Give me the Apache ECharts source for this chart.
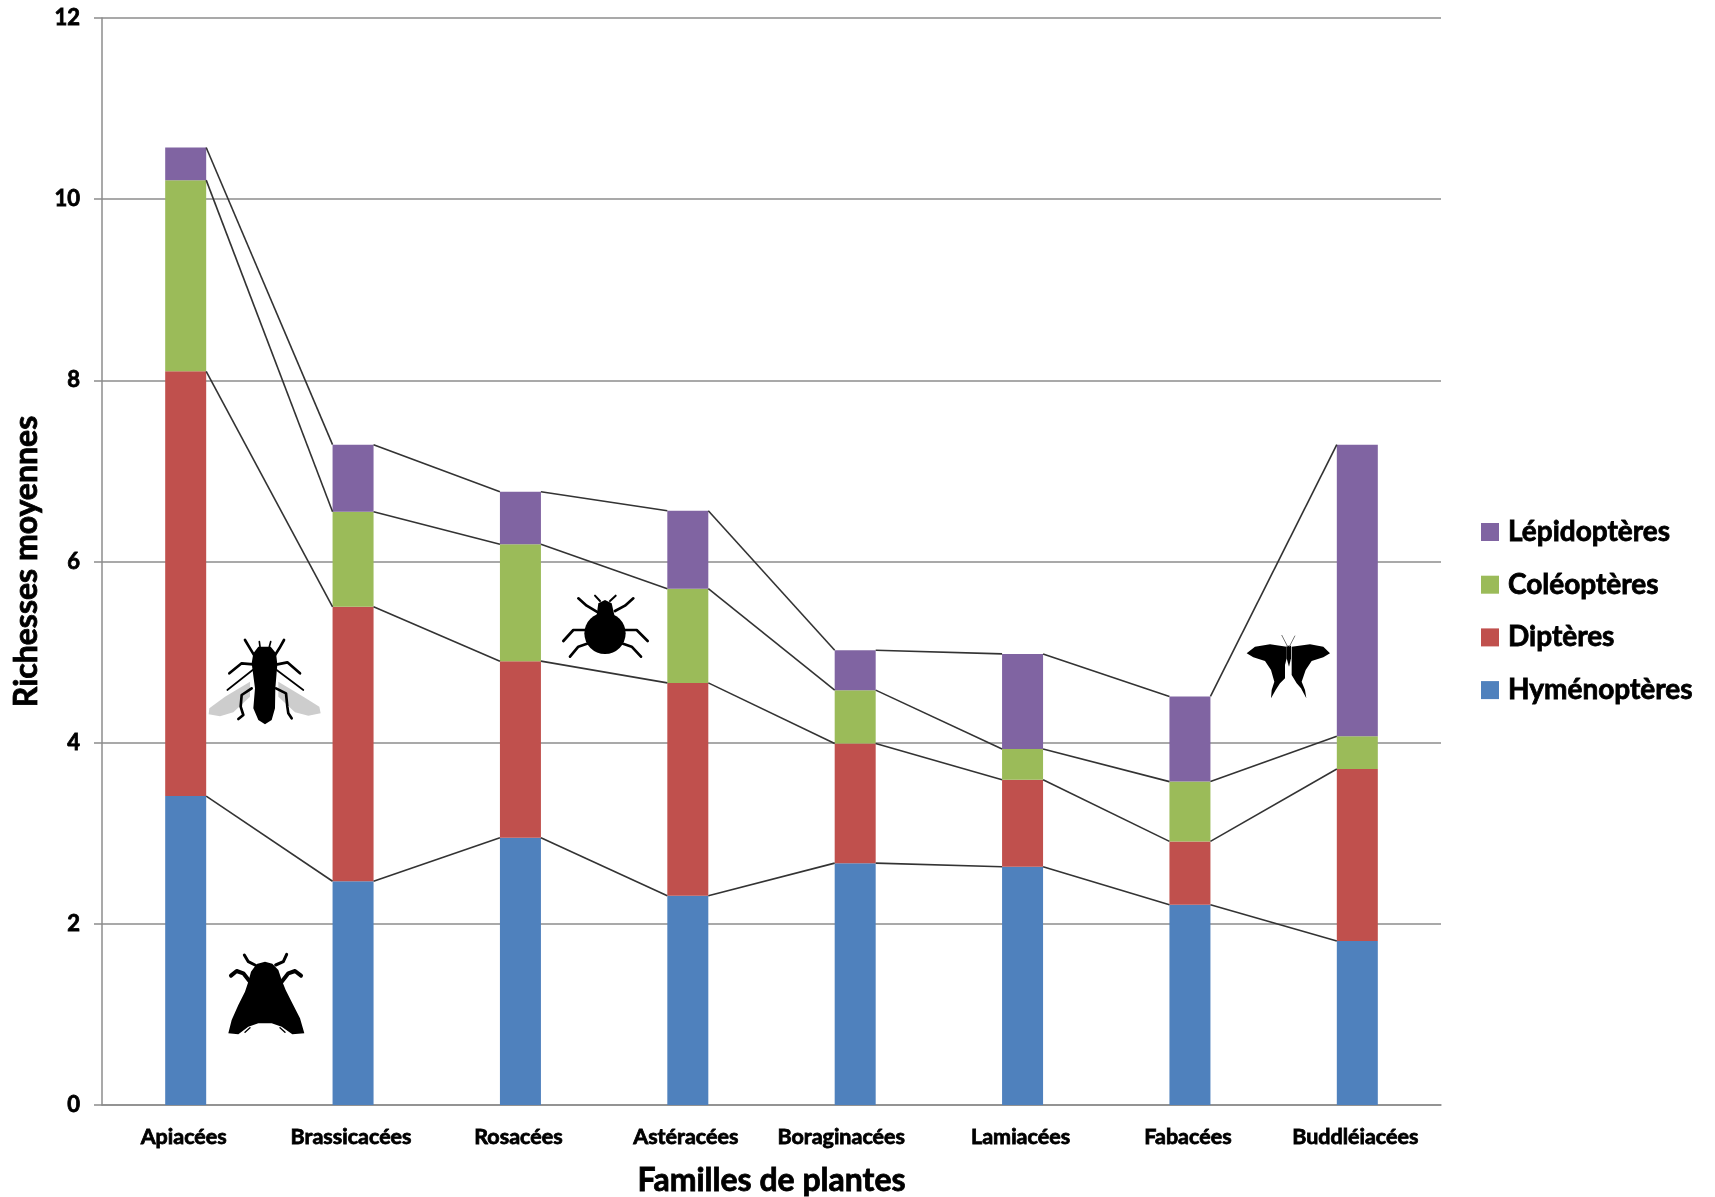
<!DOCTYPE html>
<html lang="fr">
<head>
<meta charset="utf-8">
<title>Richesses moyennes par famille de plantes</title>
<style>html,body{margin:0;padding:0;background:#fff}#chart{width:1715px;height:1197px}</style>
<script src="https://cdn.jsdelivr.net/npm/echarts@6/dist/echarts.min.js"></script>
</head>
<body>
<div id="chart"></div>
<script>
const families = ['Apiacées','Brassicacées','Rosacées','Astéracées','Boraginacées','Lamiacées','Fabacées','Buddléiacées'];
const hymenopteres = [3.41,2.47,2.95,2.31,2.67,2.63,2.21,1.81];
const dipteres     = [4.69,3.03,1.95,2.35,1.32,0.96,0.70,1.90];
const coleopteres  = [2.11,1.05,1.29,1.04,0.59,0.34,0.66,0.36];
const lepidopteres = [0.36,0.74,0.58,0.86,0.44,1.05,0.94,3.22];
const legendOrder = ['Lépidoptères','Coléoptères','Diptères','Hyménoptères'];

const FONT = 'Lato, "Open Sans", sans-serif';
const BAR_WIDTH = 41;
const GRID_GREY = '#8c8c8c';
const heavyText = { color:'#000', fontFamily:FONT, fontWeight:'bold', textBorderColor:'#000', textBorderWidth:0.8 };

const groups = [
  { name:'Hyménoptères', values:hymenopteres, color:'#4F81BD' },
  { name:'Diptères',     values:dipteres,     color:'#C0504D' },
  { name:'Coléoptères',  values:coleopteres,  color:'#9BBB59' },
  { name:'Lépidoptères', values:lepidopteres, color:'#8064A2' }
];

const barSeries = groups.map(g => ({
  name:g.name, type:'bar', stack:'richesse', barWidth:BAR_WIDTH,
  data:g.values, itemStyle:{ color:g.color }, z:3
}));

// Segments joining the top of each stack level to the same level of the next bar.
const running = families.map(() => 0);
const connectorRows = [];
groups.forEach(g => {
  g.values.forEach((v, i) => { running[i] = +(running[i] + v).toFixed(2); });
  for (let i = 0; i < families.length - 1; i++) {
    connectorRows.push([i, running[i], i + 1, running[i + 1]]);
  }
});

const connectorSeries = {
  type:'custom', silent:true, z:4, clip:false,
  coordinateSystem:'cartesian2d',
  encode:{ x:0, y:1 },
  data:connectorRows,
  renderItem(params, api) {
    const a = api.coord([api.value(0), api.value(1)]);
    const b = api.coord([api.value(2), api.value(3)]);
    return {
      type:'line',
      shape:{ x1:a[0] + BAR_WIDTH / 2, y1:a[1], x2:b[0] - BAR_WIDTH / 2, y2:b[1] },
      style:{ stroke:'#333', lineWidth:1.6 }
    };
  }
};

// Insect silhouettes, each sketched in its own local frame at three times its drawn size.
const ink = '#000';
const limb = (points, width) => ({ type:'polyline', shape:{ points }, style:{ stroke:ink, lineWidth:width || 8, fill:null, lineJoin:'round', lineCap:'round' } });
const blob = (points, fill) => ({ type:'polygon', shape:{ points }, style:{ fill:fill || ink } });
const insect = (x, y, children) => ({ type:'group', x, y, scaleX:1/3, scaleY:1/3, silent:true, z:6, children });

const fly = insect(200, 625, [
  blob([[150,170],[75,215],[28,250],[26,268],[60,274],[100,262],[150,215]], '#cdcdcd'),
  blob([[235,170],[310,215],[358,245],[362,265],[325,272],[285,262],[235,215]], '#cdcdcd'),
  limb([[165,95],[150,70],[135,45]]), limb([[222,95],[238,70],[252,45]]),
  limb([[160,118],[125,115],[88,145]]), limb([[232,118],[262,112],[300,145]]),
  limb([[158,135],[82,195]],5), limb([[230,135],[310,195]],5),
  limb([[155,190],[125,210],[122,245],[130,270],[115,282]]),
  limb([[228,190],[258,205],[262,245],[265,265],[275,280]]),
  limb([[180,65],[178,50]],5), limb([[208,65],[212,50]],5),
  blob([[175,65],[212,65],[228,85],[232,118],[226,190],[225,250],[215,285],[195,298],[175,285],[160,250],[165,190],[155,115],[160,85]])
]);

const fatFly = insect(215, 945, [
  blob([[150,50],[125,57],[108,80],[100,110],[90,140],[70,180],[50,225],[40,265],[70,268],[100,245],[130,235],[170,235],[200,245],[232,268],[268,265],[255,220],[232,175],[212,135],[200,105],[190,75],[172,56]]),
  limb([[120,60],[100,50],[88,30]],9), limb([[182,60],[205,50],[215,28]],9),
  limb([[105,110],[85,85],[65,78],[48,92]],12), limb([[200,110],[220,85],[240,78],[258,92]],12),
  limb([[105,248],[90,262]],4), limb([[195,248],[210,262]],4)
]);

const bug = insect(555, 585, [
  { type:'circle', shape:{ cx:150, cy:145, r:62 }, style:{ fill:ink } },
  blob([[125,90],[130,55],[150,45],[170,55],[178,90]]),
  limb([[135,48],[120,32]],6), limb([[165,48],[182,32]],6),
  limb([[125,80],[95,62],[70,40]]), limb([[180,78],[210,62],[235,40]]),
  limb([[92,135],[55,135],[25,168]]), limb([[210,135],[245,135],[278,168]]),
  limb([[100,175],[70,185],[45,215]]), limb([[200,175],[230,185],[258,215]])
]);

const butterfly = insect(1235, 625, [
  blob([[155,65],[105,58],[60,65],[35,85],[55,97],[90,108],[108,135],[118,170],[110,195],[108,220],[122,195],[135,175],[150,160],[150,120],[155,100]]),
  blob([[170,65],[225,58],[265,65],[285,85],[265,97],[230,108],[212,135],[200,170],[210,195],[214,220],[198,190],[185,175],[170,150],[170,110]]),
  blob([[155,62],[168,62],[168,100],[162,125],[155,100]]),
  { type:'polyline', shape:{ points:[[158,65],[140,30]] }, style:{ stroke:'#777', lineWidth:3, fill:null } },
  { type:'polyline', shape:{ points:[[163,65],[180,32]] }, style:{ stroke:'#777', lineWidth:3, fill:null } }
]);

const chart = echarts.init(document.getElementById('chart'), null, { renderer:'canvas' });
chart.setOption({
  animation:false,
  backgroundColor:'#fff',
  grid:{ left:102, right:274, top:18, bottom:92, containLabel:false, outerBoundsMode:'none' },
  legend:{
    data:legendOrder, orient:'vertical', left:1476, top:512,
    icon:'rect', itemWidth:18, itemHeight:18, itemGap:22.7,
    selectedMode:false,
    textStyle:{ ...heavyText, fontSize:28, lineHeight:30, padding:[0,0,0,4] }
  },
  xAxis:{
    type:'category', data:families,
    name:'Familles de plantes', nameLocation:'middle', nameGap:60,
    nameTextStyle:{ ...heavyText, fontSize:32 },
    axisTick:{ show:false },
    axisLine:{ lineStyle:{ color:GRID_GREY, width:1.5 } },
    axisLabel:{
      interval:0, margin:21,
      formatter: v => v === 'Boraginacées' ? '{shifted|' + v + '}' : '{plain|' + v + '}',
      rich:{
        plain:{ ...heavyText, fontSize:21.5, padding:[0,4,0,0] },
        shifted:{ ...heavyText, fontSize:21.5, padding:[0,28,0,0] }
      }
    }
  },
  yAxis:{
    type:'value', min:0, max:12, interval:2,
    name:'Richesses moyennes', nameLocation:'middle', nameGap:53, nameRotate:90,
    nameTextStyle:{ ...heavyText, fontSize:32 },
    axisLine:{ show:true, lineStyle:{ color:GRID_GREY, width:1.5 } },
    axisTick:{ show:true, length:8, lineStyle:{ color:GRID_GREY, width:1.5 } },
    axisLabel:{ ...heavyText, fontSize:22, margin:22 },
    splitLine:{ show:true, lineStyle:{ color:GRID_GREY, width:1.5 } }
  },
  series:[...barSeries, connectorSeries],
  graphic:{ elements:[fly, fatFly, bug, butterfly] }
});
</script>
</body>
</html>
